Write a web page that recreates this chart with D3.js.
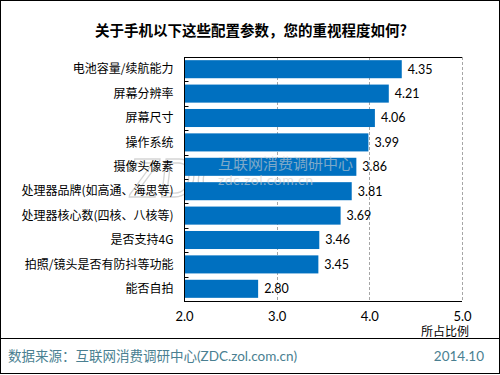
<!DOCTYPE html>
<html>
<head>
<meta charset="utf-8">
<script src="https://cdn.jsdelivr.net/npm/d3@7"></script>
<style>
	body { margin: 0; background: #fff; }
	svg { display: block; }
</style>
</head>
<body>
<svg id="chart" width="500" height="375"></svg>
<script>
let categories = ["电池容量/续航能力", "屏幕分辨率", "屏幕尺寸", "操作系统", "摄像头像素",
	"处理器品牌(如高通、海思等)", "处理器核心数(四核、八核等)", "是否支持4G", "拍照/镜头是否有防抖等功能", "能否自拍"];
let values = [4.35, 4.21, 4.06, 3.99, 3.86, 3.81, 3.69, 3.46, 3.45, 2.80];
let xTicks = [2.0, 3.0, 4.0, 5.0];

let title = "关于手机以下这些配置参数，您的重视程度如何?";
let source = "数据来源：互联网消费调研中心(ZDC.zol.com.cn)";
let dateLabel = "2014.10";
let axisName = "所占比例";

let cjk = "'Noto Sans CJK SC', 'Noto Sans', sans-serif";
let latin = "Lato, 'Noto Sans CJK SC', sans-serif";

let m = {left: 184, right: 462, top: 57, bottom: 301};

let svg = d3.select("#chart");

// outer frame + footer rule
svg.append("rect")
	.attr("x", 0.5).attr("y", 0.5)
	.attr("width", 499).attr("height", 373)
	.attr("fill", "none").attr("stroke", "#000");
svg.append("line")
	.attr("x1", 0).attr("x2", 500)
	.attr("y1", 338.5).attr("y2", 338.5)
	.attr("stroke", "#000");

svg.append("text")
	.attr("x", 251).attr("y", 36)
	.attr("text-anchor", "middle")
	.style("font-family", cjk)
	.style("font-size", "14.5px")
	.style("font-weight", "bold")
	.text(title);

let x = d3.scaleLinear()
	.domain([2, 5])
	.range([m.left, m.right]);

let y = d3.scaleBand()
	.domain(categories)
	.range([m.top, m.bottom])
	.paddingInner(0.26)
	.paddingOuter(0.13);

// dashed gridlines
svg.append("g")
	.selectAll("line")
	.data(xTicks.slice(1))
	.join("line")
		.attr("x1", d => Math.round(x(d)) + 0.5)
		.attr("x2", d => Math.round(x(d)) + 0.5)
		.attr("y1", m.top).attr("y2", m.bottom)
		.attr("stroke", "#a6a6a6")
		.attr("stroke-dasharray", "3,2");

// top border
svg.append("line")
	.attr("x1", m.left).attr("x2", m.right)
	.attr("y1", m.top + 0.5).attr("y2", m.top + 0.5)
	.attr("stroke", "#000");

// watermark logo (behind)
let wm = svg.append("g").style("pointer-events", "none");
wm.append("text")
	.attr("x", 130).attr("y", 197)
	.style("font-family", latin)
	.style("font-size", "52px")
	.style("font-style", "italic")
	.attr("fill", "none")
	.attr("stroke", "#d6d6d6")
	.attr("stroke-width", 1.3)
	.text("ZDC");

svg.append("g")
	.selectAll("rect")
	.data(values)
	.join("rect")
		.attr("x", m.left)
		.attr("y", (d, i) => y(categories[i]))
		.attr("width", d => x(d) - m.left)
		.attr("height", y.bandwidth())
		.attr("fill", "#0070c0");

let wm2 = svg.append("g").style("pointer-events", "none");
wm2.append("text")
	.attr("x", 218).attr("y", 169)
	.style("font-family", cjk)
	.style("font-size", "15px")
	.attr("fill", "#cfcfcf")
	.attr("opacity", 0.6)
	.text("互联网消费调研中心");
wm2.append("text")
	.attr("x", 218).attr("y", 185)
	.style("font-family", latin)
	.style("font-size", "14px")
	.attr("fill", "#cfcfcf")
	.attr("opacity", 0.6)
	.style("letter-spacing", "0.5px")
	.text("zdc.zol.com.cn");

// value labels
svg.append("g")
	.selectAll("text")
	.data(values)
	.join("text")
		.attr("x", d => x(d) + 6)
		.attr("y", (d, i) => y(categories[i]) + y.bandwidth() / 2)
		.attr("dy", "0.35em")
		.style("font-family", latin)
		.style("font-size", "12.5px")
		.attr("fill", "#000")
		.text(d => d.toFixed(2));

// left axis with inward ticks at band edges
let yAxis = svg.append("g")
	.attr("transform", `translate(${m.left + 0.5},0)`);
yAxis.append("line")
	.attr("y1", m.top).attr("y2", m.bottom + 1)
	.attr("stroke", "#000");
yAxis.selectAll(".tk")
	.data(categories.slice(1))
	.join("line")
		.attr("class", "tk")
		.attr("x1", 0).attr("x2", 4)
		.attr("y1", d => Math.round(y(d) - y.step() * y.paddingInner() / 2) + 0.5)
		.attr("y2", d => Math.round(y(d) - y.step() * y.paddingInner() / 2) + 0.5)
		.attr("stroke", "#000");
yAxis.selectAll(".lb")
	.data(categories)
	.join("text")
		.attr("class", "lb")
		.attr("x", -11)
		.attr("y", d => y(d) + y.bandwidth() / 2)
		.attr("dy", "0.35em")
		.attr("text-anchor", "end")
		.style("font-family", cjk)
		.style("font-size", "12px")
		.text(d => d);

// bottom axis
let xAxis = svg.append("g")
	.attr("transform", `translate(0,${m.bottom + 0.5})`)
	.call(d3.axisBottom(x).tickValues(xTicks).tickFormat(d3.format(".1f")).tickSize(0).tickPadding(10));
xAxis.select(".domain").attr("stroke", "#000").attr("d", `M${m.left},0H${m.right}`);
xAxis.selectAll("text")
	.style("font-family", latin)
	.style("font-size", "13px")
	.attr("fill", "#000");

svg.append("text")
	.attr("x", 445).attr("y", 336)
	.attr("text-anchor", "middle")
	.style("font-family", cjk)
	.style("font-size", "12px")
	.text(axisName);

// footer
svg.append("text")
	.attr("x", 8).attr("y", 361)
	.style("font-family", latin)
	.style("font-size", "13.5px")
	.attr("fill", "#4a7f91")
	.text(source);
svg.append("text")
	.attr("x", 484).attr("y", 361)
	.attr("text-anchor", "end")
	.style("font-family", latin)
	.style("font-size", "13.5px")
	.attr("fill", "#4a7f91")
	.text(dateLabel);
</script>
</body>
</html>
